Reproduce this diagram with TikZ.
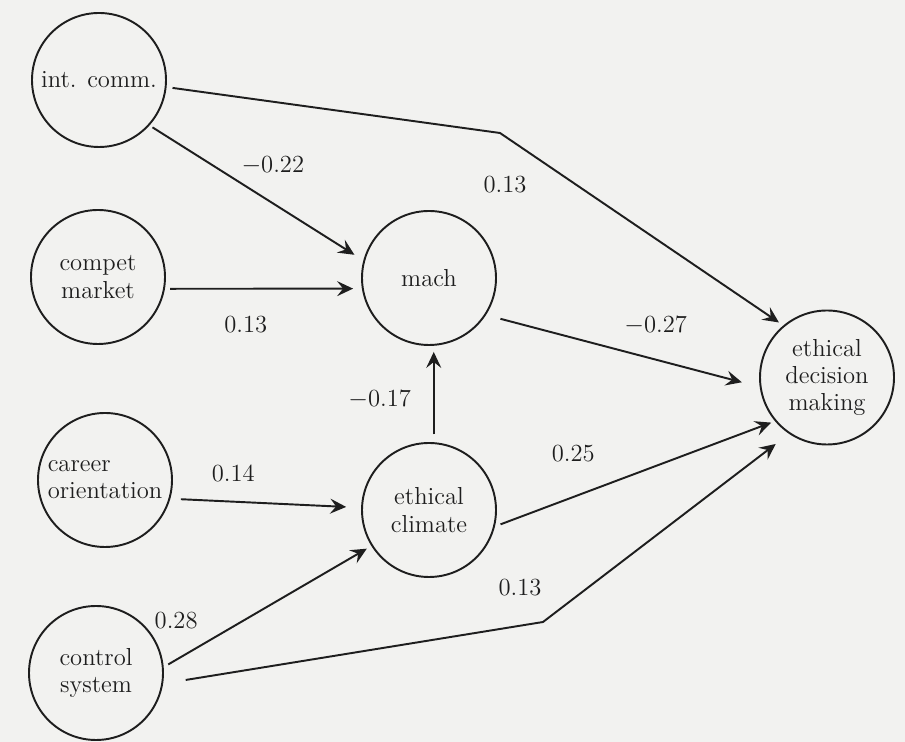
\documentclass[tikz,border=0pt]{standalone}
\usetikzlibrary{arrows.meta}
\definecolor{PaperGray}{RGB}{242,242,240}
\definecolor{InkGray}{RGB}{30,30,30}

\begin{document}
\begin{tikzpicture}[
    font=\fontsize{14}{15.5}\selectfont,
    var/.style={circle, draw=InkGray, line width=1.1pt, minimum size=2.68cm,
        inner sep=0pt, align=center, text=InkGray},
    path/.style={-{Stealth[length=3.2mm, width=3mm, inset=1.2mm]},
        draw=InkGray, line width=1.1pt, shorten <=3pt, shorten >=4pt},
    weight/.style={inner sep=1pt, text=InkGray},
]
\fill[PaperGray] (0,0) rectangle (18.1,14.84);
\useasboundingbox (0,0) rectangle (18.1,14.84);

% antecedents (left column)
\node[var] (comm)    at (1.98,13.24) {int. comm.};
\node[var] (market)  at (1.96,9.30)  {compet\\market};
\node[var, align=left] (career) at (2.10,5.24) {career\\orientation};
\node[var] (control) at (1.92,1.38)  {control\\system};

% mediators and outcome
\node[var] (mach)    at (8.58,9.28)  {mach};
\node[var] (climate) at (8.58,4.64)  {ethical\\climate};
\node[var] (edm)     at (16.54,7.29) {ethical\\decision\\making};

\coordinate (bendTop) at (10.00,12.18);
\coordinate (bendBot) at (10.86,2.40);

% paths into mach
\draw[path, shorten <=2pt, shorten >=6pt] (comm.-42) --
    node[weight, pos=.6, above=5.8mm, xshift=-1mm] (wCommMach) {$-$0.22} (mach.165);
\draw[path, shorten >=5pt] (market.-10) --
    node[weight, pos=.41, below=5mm] (wMarketMach) {0.13} (mach.189);
\draw[path, shorten <=4.5pt, shorten >=3.5pt] (climate.86) --
    node[weight, pos=.45, left=4mm] (wClimateMach) {$-$0.17} (mach.-86);

% paths into ethical climate
\draw[path, shorten <=6pt, shorten >=8.5pt] (career.-16) --
    node[weight, pos=.33, above=3.3mm] (wCareerClimate) {0.14} (climate.178);
\draw[path, shorten >=3pt] (control.5) --
    node[weight, pos=.06, above=5.6mm] (wControlClimate) {0.28} (climate.212);

% paths into ethical decision making
\draw[path, shorten <=3.4pt, shorten >=3pt] (comm.-6) -- (bendTop)
    node[weight, below=8mm, xshift=1mm] (wCommEdm) {0.13} -- (edm.130);
\draw[path, shorten <=8.5pt, shorten >=10.5pt] (mach.-33) --
    node[weight, pos=.62, above=4.5mm] (wMachEdm) {$-$0.27} (edm.188);
\draw[path, shorten <=3.4pt, shorten >=2.3pt] (climate.-14) --
    node[weight, pos=.28, above=6.4mm] (wClimateEdm) {0.25} (edm.220);
\draw[path, shorten <=13pt, shorten >=9.5pt] (control.-9) -- (bendBot)
    node[weight, above=4.6mm, xshift=-4.6mm] (wControlEdm) {0.13} -- (edm.236);

\end{tikzpicture}
\end{document}
